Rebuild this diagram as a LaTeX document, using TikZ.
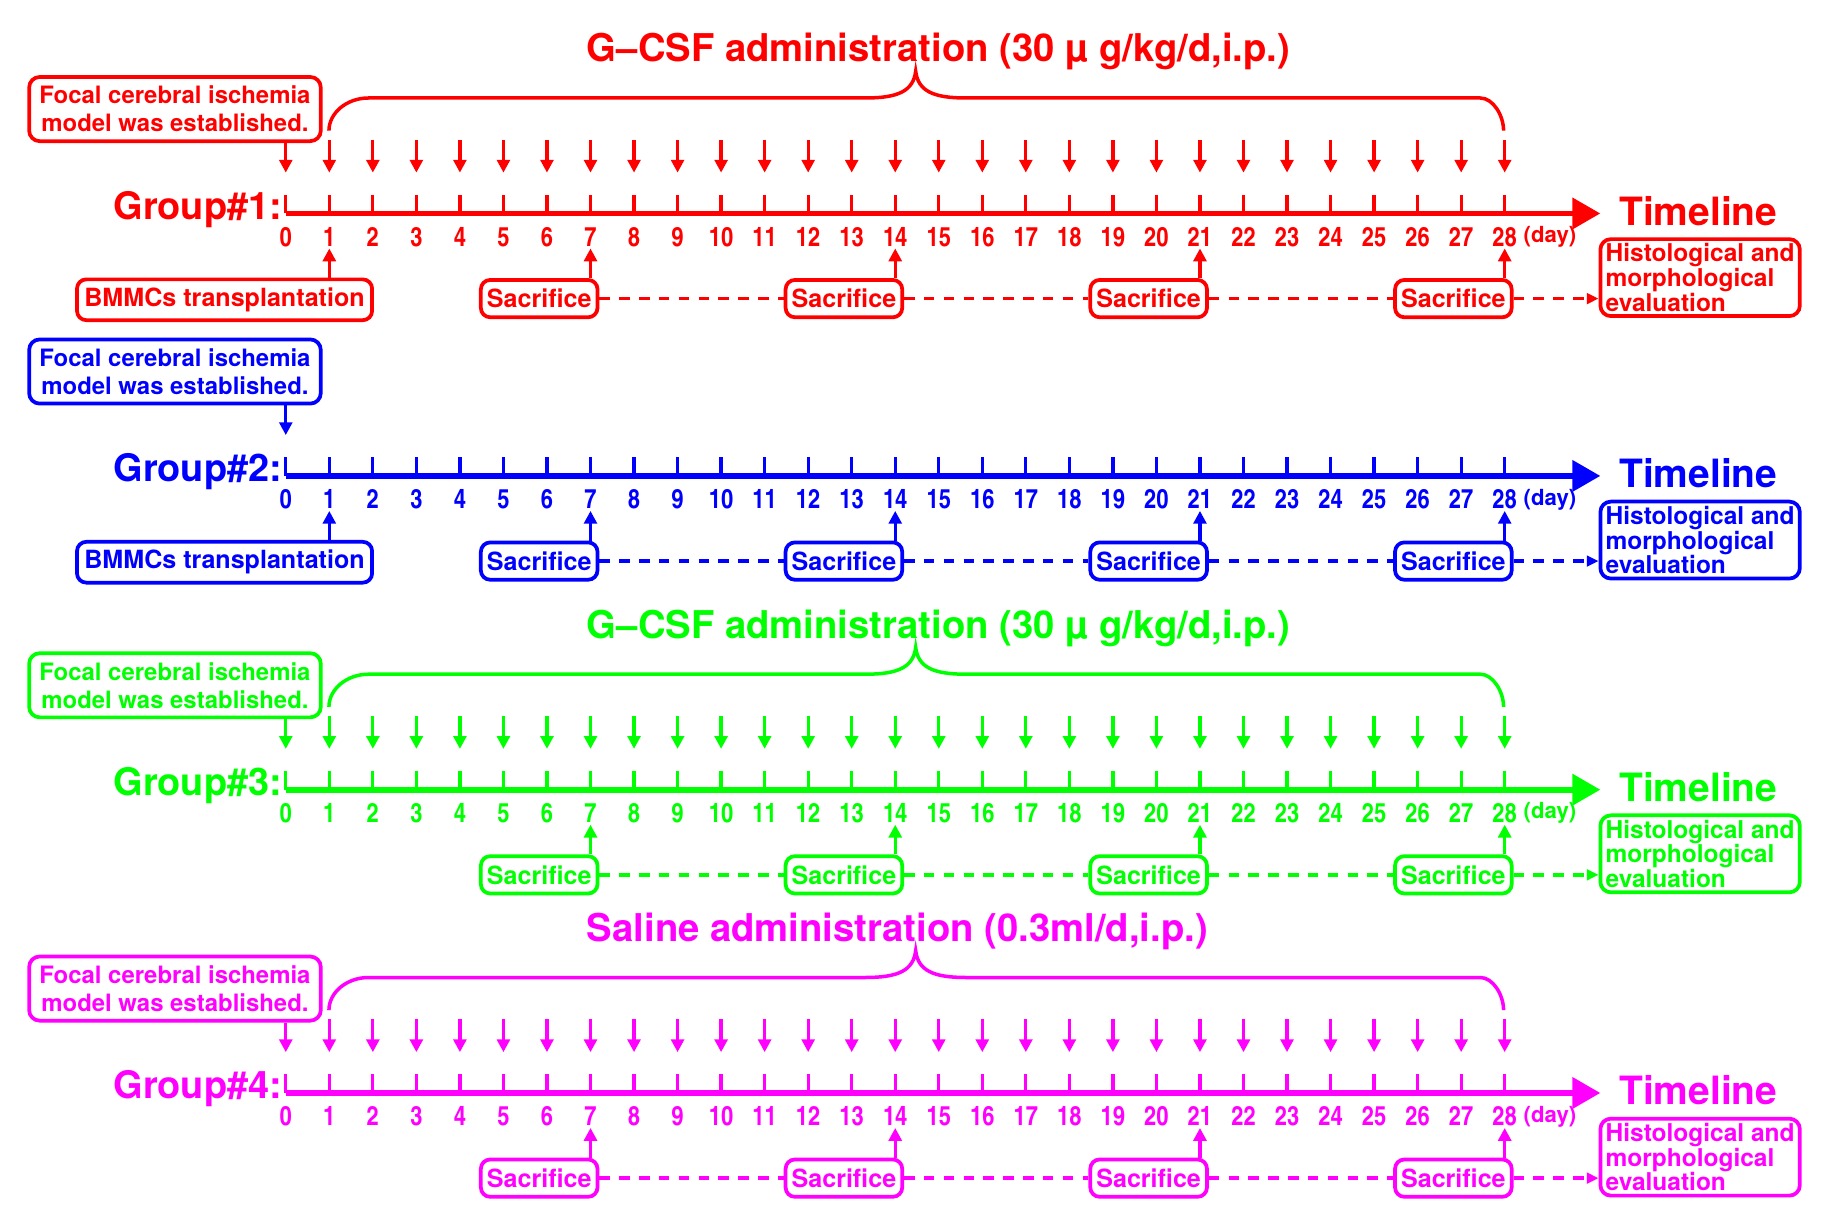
\documentclass[tikz,border=0pt]{standalone}
\usepackage{fontspec}
\setmainfont{texgyreheros-bold.otf}
\newfontfamily\narrowfont{texgyreheroscn-bold.otf}
\usetikzlibrary{arrows.meta,calc}

\definecolor{grpred}{RGB}{255,0,0}
\definecolor{grpblue}{RGB}{0,0,255}
\definecolor{grpgreen}{RGB}{0,255,0}
\definecolor{grpmagenta}{RGB}{255,0,255}

\tikzset{
  box/.style={draw, line width=3.2pt, rounded corners=9pt, inner sep=1pt, align=center},
  axisline/.style={line width=5pt, -{Triangle[length=24pt,width=26pt]}},
  tickline/.style={line width=2.8pt},
  dnarrow/.style={line width=2.8pt, -{Triangle[length=11pt,width=11pt]}},
  uparrow/.style={line width=2.8pt, -{Triangle[length=11pt,width=11pt]}},
  dashline/.style={line width=3pt, dash pattern=on 9pt off 8pt},
  dasharrow/.style={dashline, -{Triangle[length=10pt,width=9pt]}},
  braceline/.style={line width=3pt},
  daynum/.style={anchor=base, inner sep=0pt, font=\narrowfont\fontsize{23}{23}\selectfont},
  dayunit/.style={anchor=base west, inner sep=0pt, font=\fontsize{19}{19}\selectfont},
  grouplabel/.style={anchor=base east, inner sep=0pt, font=\fontsize{32.5}{33}\selectfont},
  timelabel/.style={anchor=base west, inner sep=0pt, font=\fontsize{33.4}{33}\selectfont},
  titletext/.style={anchor=base west, inner sep=0pt, font=\fontsize{32.8}{33}\selectfont},
  focalbox/.style={box, minimum width=250pt, minimum height=55pt, font=\fontsize{20.5}{24}\selectfont},
  sacbox/.style={box, rounded corners=8pt, minimum width=100pt, minimum height=32pt, font=\fontsize{21.5}{22}\selectfont},
  bmmcbox/.style={sacbox, minimum width=253pt, minimum height=35pt},
  histbox/.style={box, align=left, minimum width=171pt, minimum height=66pt, font=\fontsize{21}{19.5}\selectfont},
}

% parts every group has
\newcommand{\grpcommon}[1]{%
  \foreach \i in {0,...,28}
    \coordinate (t\i) at ({245+\i*37.32},0);
  \coordinate (tend) at (1372,0);
  \draw[axisline] (t0) -- (tend);
  \foreach \i in {0,...,28}{
    \draw[tickline] (t\i) -- ++(0,-16);
    \node[daynum] (n\i) at ($(t\i)+(0,28)$) {\i};
  }
  \node[dayunit] (day) at (1306,25) {(day)};
  \node[grouplabel] (glabel) at (242,5) {Group\##1:};
  \node[timelabel] (tl) at (1388,10) {Timeline};
  \node[focalbox] (focal) at (150,-89.5) {Focal cerebral ischemia\\ model was established.};
  \draw[dnarrow] (focal.south -| t0) -- ($(t0)+(0,-35)$);
  \foreach \d in {7,14,21,28}{
    \node[sacbox] (s\d) at ($(t\d)+(-44,73)$) {Sacrifice};
    \draw[uparrow] (s\d.north -| t\d) -- ($(t\d)+(0,30)$);
  }
  \node[histbox] (hist) at (1457.5,55) {Histological and\\morphological\\evaluation};
  \draw[dashline] (s7) -- (s14);
  \draw[dashline] (s14) -- (s21);
  \draw[dashline] (s21) -- (s28);
  \draw[dasharrow] (s28.east) -- (s28.east -| hist.west);
}

% daily injections
\newcommand{\grpdaily}[1]{%
  \node[titletext] (title) at (503,-130) {#1};
  \draw[braceline] (282,-71) .. controls (282,-86) and (297,-99) .. (316,-99)
    -- (742,-99) .. controls (770,-99) and (783,-105) .. (785,-122)
    .. controls (787,-105) and (800,-99) .. (828,-99)
    -- (1269,-99) .. controls (1280,-99) and (1289,-84) .. (1289,-71);
  \foreach \i in {1,...,28}
    \draw[dnarrow] ($(t\i)+(0,-63)$) -- ($(t\i)+(0,-35)$);
}

% cell transplantation
\newcommand{\grpbmmc}{%
  \node[bmmcbox] (bmmc) at (192.5,74) {BMMCs transplantation};
  \draw[uparrow] (bmmc.north -| t1) -- ($(t1)+(0,30)$);
}

\begin{document}
\begin{tikzpicture}[x=1pt,y=-1pt]
  \useasboundingbox (0,0) rectangle (1568,1055);

  \begin{scope}[shift={(0,183)}, grpred, name prefix=g1-]
    \grpcommon{1}
    \grpdaily{G--CSF administration (30 µ g/kg/d,i.p.)}
    \grpbmmc
  \end{scope}

  \begin{scope}[shift={(0,408)}, grpblue, name prefix=g2-]
    \grpcommon{2}
    \grpbmmc
  \end{scope}

  \begin{scope}[shift={(0,677)}, grpgreen, name prefix=g3-]
    \grpcommon{3}
    \grpdaily{G--CSF administration (30 µ g/kg/d,i.p.)}
  \end{scope}

  \begin{scope}[shift={(0,937)}, grpmagenta, name prefix=g4-]
    \grpcommon{4}
    \grpdaily{Saline administration (0.3ml/d,i.p.)}
  \end{scope}
\end{tikzpicture}
\end{document}
